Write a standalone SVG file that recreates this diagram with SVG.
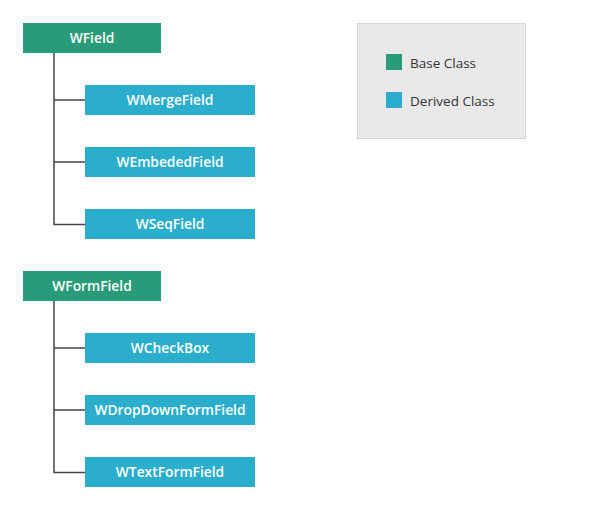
<svg xmlns="http://www.w3.org/2000/svg" width="601" height="516" viewBox="0 0 601 516">
<style>
.base{fill:#2a9b78}
.der{fill:#2aaecc}
.lbl{font-family:"Open Sans","Noto Sans","DejaVu Sans",sans-serif;font-size:13.8px;font-weight:600;fill:#ffffff;text-anchor:middle;dominant-baseline:central}
.leg{font-family:"Open Sans","Noto Sans","DejaVu Sans",sans-serif;font-size:13.5px;fill:#333333;dominant-baseline:central}
.conn{stroke:#444444;stroke-width:1.5;fill:none}
</style>
<rect width="601" height="516" fill="#ffffff"/>
<g id="connectors">
<path class="conn" d="M54 53V224.5H85M54 100H85M54 162H85"/>
<path class="conn" d="M54 301V472.5H85M54 348H85M54 410H85"/>
</g>
<g id="WField"><rect class="base" x="23" y="23" width="138" height="30"/><text class="lbl" x="92" y="37.5">WField</text></g>
<g id="WMergeField"><rect class="der" x="85" y="85" width="170" height="30"/><text class="lbl" x="170" y="99.5">WMergeField</text></g>
<g id="WEmbededField"><rect class="der" x="85" y="147" width="170" height="30"/><text class="lbl" x="170" y="161.5">WEmbededField</text></g>
<g id="WSeqField"><rect class="der" x="85" y="209" width="170" height="30"/><text class="lbl" x="170" y="223.5">WSeqField</text></g>
<g id="WFormField"><rect class="base" x="23" y="271" width="138" height="30"/><text class="lbl" x="92" y="285.5">WFormField</text></g>
<g id="WCheckBox"><rect class="der" x="85" y="333" width="170" height="30"/><text class="lbl" x="170" y="347.5">WCheckBox</text></g>
<g id="WDropDownFormField"><rect class="der" x="85" y="395" width="170" height="30"/><text class="lbl" x="170" y="409.5">WDropDownFormField</text></g>
<g id="WTextFormField"><rect class="der" x="85" y="457" width="170" height="30"/><text class="lbl" x="170" y="471.5">WTextFormField</text></g>
<g id="legend">
<rect x="357.5" y="23.5" width="168" height="115" fill="#e9e9e9" stroke="#d6d6d6"/>
<rect class="base" x="386" y="54" width="16" height="16"/>
<text class="leg" x="410" y="62.5">Base Class</text>
<rect class="der" x="386" y="92" width="16" height="16"/>
<text class="leg" x="410" y="100.5">Derived Class</text>
</g>
</svg>
